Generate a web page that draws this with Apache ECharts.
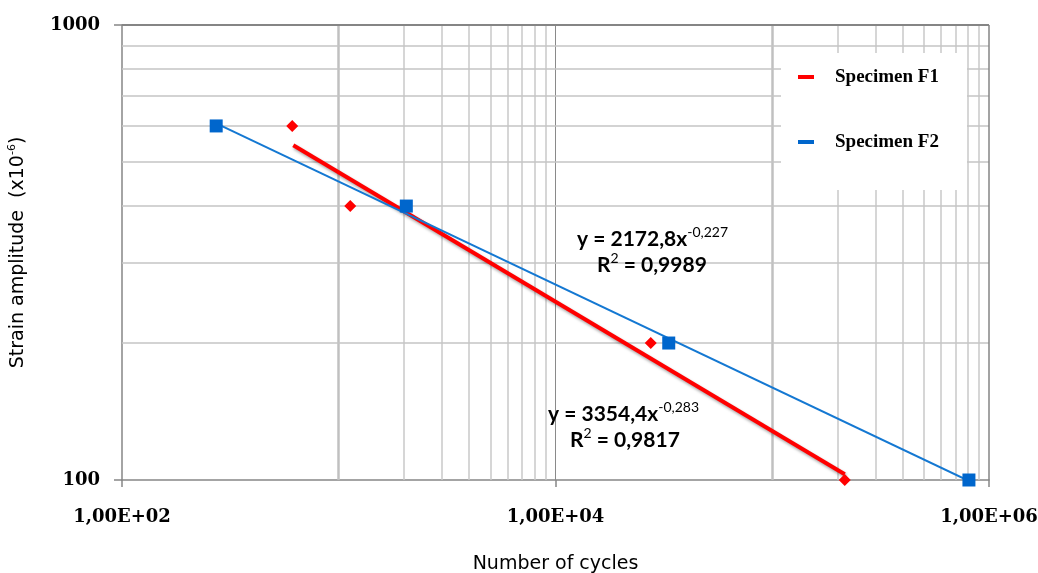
<!DOCTYPE html>
<html>
<head>
<meta charset="utf-8">
<script src="https://cdn.jsdelivr.net/npm/echarts@6/dist/echarts.min.js"></script>
<style>html,body{margin:0;padding:0;background:#fff;}#c{width:1038px;height:573px;}</style>
</head>
<body>
<div id="c"></div>
<script>
// Data
const f1Cycles = [610, 1130, 27500, 216000];
const f1Strain = [600, 400, 200, 100];
const f2Cycles = [272, 2050, 33300, 808000];
const f2Strain = [600, 400, 200, 100];
// trendline endpoints (power law = straight line in log-log)
const f1TrendCycles = [617, 216000];
const f1TrendStrain = [544, 103];
const f2TrendCycles = [272, 808000];
const f2TrendStrain = [608, 99.5];
// gridlines as drawn in the reference
const xGridMinor = [2000, 3000, 4000, 5000, 6000, 7000, 8000, 9000, 200000, 300000, 400000, 500000, 600000, 700000, 800000, 900000];
const xGridMajor = [1000, 100000];
const xGridDark = [10000];
const yGridMinor = [200, 300, 400, 500, 600, 700, 800, 900];
const seriesNames = ['Specimen F1', 'Specimen F2'];
const eqF2 = ['2172,8', '-0,227', '0,9989'];
const eqF1 = ['3354,4', '-0,283', '0,9817'];

const zip = (a, b) => a.map((v, i) => [v, b[i]]);
const RED = '#ff0000', BLUE = '#0066cc', EQBLUE = '#5096e6';

const gridLines = [];
xGridMinor.forEach(v => gridLines.push({xAxis: v, lineStyle: {color: '#c8c8c8', width: 1.5, type: 'solid'}}));
xGridMajor.forEach(v => gridLines.push({xAxis: v, lineStyle: {color: '#c0c0c0', width: 2.5, type: 'solid'}}));
xGridDark.forEach(v => gridLines.push({xAxis: v, lineStyle: {color: '#8a8a8a', width: 1, type: 'solid'}}));
yGridMinor.forEach(v => gridLines.push({yAxis: v, lineStyle: {color: '#c4c4c4', width: 1.5, type: 'solid'}}));
gridLines.push({yAxis: 1000, lineStyle: {color: '#858585', width: 2, type: 'solid'}});
gridLines.push({xAxis: 1000000, lineStyle: {color: '#858585', width: 1.5, type: 'solid'}});

const eqRich = (color) => ({
  a: {fontFamily: 'Lato', fontWeight: 'bold', fontSize: 21, color: color},
  s: {fontFamily: 'Lato', fontWeight: 'normal', fontSize: 14, color: color, padding: [0, 0, 14, 0]}
});

const chart = echarts.init(document.getElementById('c'), null, {renderer: 'canvas'});
chart.setOption({
  animation: false,
  backgroundColor: '#ffffff',
  grid: {left: 122, right: 49, top: 25, bottom: 93, containLabel: false, outerBoundsMode: 'none'},
  xAxis: {
    type: 'log', logBase: 10, min: 100, max: 1000000, interval: 2,
    name: 'Number of cycles', nameLocation: 'middle', nameGap: 75,
    nameTextStyle: {fontFamily: 'DejaVu Sans', fontSize: 19, color: '#000'},
    axisLine: {show: true, lineStyle: {color: '#868686', width: 1.5}},
    axisTick: {show: true, length: 7, lineStyle: {color: '#868686', width: 1.5}},
    axisLabel: {margin: 28, fontFamily: 'DejaVu Serif', fontWeight: 'bold', fontSize: 18, color: '#000',
      formatter: v => '1,00E+' + String(Math.round(Math.log10(v))).padStart(2, '0')},
    splitLine: {show: false}, minorTick: {show: false}
  },
  yAxis: {
    type: 'log', logBase: 10, min: 100, max: 1000, interval: 1,
    name: '{a|Strain amplitude  (x10}{s|-6}{a|)}', nameLocation: 'middle', nameGap: 92, nameRotate: 90,
    nameTextStyle: {rich: {
      a: {fontFamily: 'DejaVu Sans', fontSize: 19, color: '#000'},
      s: {fontFamily: 'DejaVu Sans', fontSize: 11, color: '#000', padding: [0, 0, 12, 0]}
    }},
    axisLine: {show: true, lineStyle: {color: '#868686', width: 1.5}},
    axisTick: {show: true, length: 8, lineStyle: {color: '#868686', width: 1.5}},
    axisLabel: {margin: 22, fontFamily: 'DejaVu Serif', fontWeight: 'bold', fontSize: 18, color: '#000',
      formatter: v => String(Math.round(v))},
    splitLine: {show: false}
  },
  legend: {
    left: 798, top: 67, orient: 'vertical', itemGap: 45, itemWidth: 16, itemHeight: 4, padding: 0, z: 6,
    textStyle: {fontFamily: 'Liberation Serif', fontWeight: 'bold', fontSize: 19, color: '#000', padding: [0, 0, 0, 16], lineHeight: 20},
    data: [
      {name: seriesNames[0], icon: 'rect', itemStyle: {color: RED}},
      {name: seriesNames[1], icon: 'rect', itemStyle: {color: BLUE}}
    ]
  },
  graphic: [
    {type: 'rect', z: 3, shape: {x: 781, y: 53, width: 186, height: 137}, style: {fill: '#ffffff'}, silent: true},
    {type: 'text', z: 5, left: 577, top: 225, style: {text: '{a|y = ' + eqF2[0] + 'x}{s|' + eqF2[1] + '}', rich: eqRich(EQBLUE)}},
    {type: 'text', z: 5, left: 597, top: 251, style: {text: '{a|R}{s|2}{a| = ' + eqF2[2] + '}', rich: eqRich(EQBLUE)}},
    {type: 'text', z: 5, left: 548, top: 400, style: {text: '{a|y = ' + eqF1[0] + 'x}{s|' + eqF1[1] + '}', rich: eqRich(RED)}},
    {type: 'text', z: 5, left: 570, top: 426, style: {text: '{a|R}{s|2}{a| = ' + eqF1[2] + '}', rich: eqRich(RED)}}
  ],
  series: [
    {type: 'line', name: 'grid', data: [], silent: true, z: 1,
      markLine: {silent: true, z: 1, symbol: 'none', label: {show: false}, animation: false,
        lineStyle: {type: 'solid'}, data: gridLines}},
    {type: 'line', name: 'F1 trend', data: zip(f1TrendCycles, f1TrendStrain), symbol: 'none', z: 4,
      lineStyle: {color: RED, width: 4, shadowColor: 'rgba(0,0,0,0.35)', shadowBlur: 3, shadowOffsetX: 1, shadowOffsetY: 2}},
    {type: 'line', name: 'F2 trend', data: zip(f2TrendCycles, f2TrendStrain), symbol: 'none', z: 4,
      lineStyle: {color: '#1478d2', width: 2}},
    {type: 'scatter', name: seriesNames[0], data: zip(f1Cycles, f1Strain), symbol: 'diamond', symbolSize: 12, z: 5,
      itemStyle: {color: RED, opacity: 1}},
    {type: 'scatter', name: seriesNames[1], data: zip(f2Cycles, f2Strain), symbol: 'rect', symbolSize: 13, z: 5,
      itemStyle: {color: BLUE, opacity: 1}}
  ]
});
</script>
</body>
</html>
